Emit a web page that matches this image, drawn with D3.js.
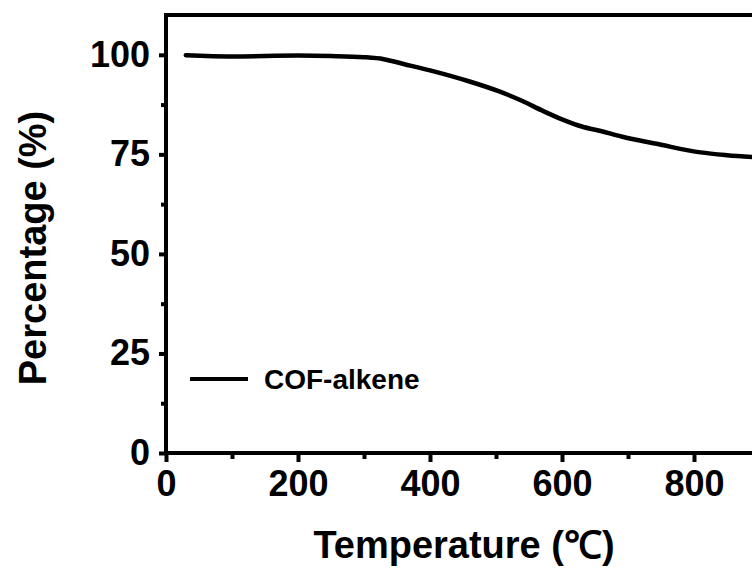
<!DOCTYPE html>
<html>
<head>
<meta charset="utf-8">
<script src="https://cdn.jsdelivr.net/npm/d3@7"></script>
<style>
  body { margin: 0; background: #fff; }
  svg text { font-family: "Liberation Sans", Arial, sans-serif; font-weight: bold; fill: #000; }
</style>
</head>
<body>
<svg id="chart" width="752" height="568"></svg>
<script>
// data
var temperature = [30, 100, 200, 250, 300, 330, 360, 400, 460, 505, 540, 570, 600, 630, 660, 690, 750, 810, 850, 890];
var percentage  = [99.9, 99.6, 99.8, 99.7, 99.4, 98.9, 97.7, 96.1, 93.3, 90.8, 88.4, 86.0, 83.8, 82.0, 80.8, 79.5, 77.4, 75.5, 74.8, 74.3];
var xTicks = [0, 200, 400, 600, 800];
var yTicks = [0, 25, 50, 75, 100];
var seriesName = "COF-alkene";

var svg = d3.select("#chart");
var plotLeft = 166, plotRight = 760, plotTop = 15, plotBottom = 453;

var x = d3.scaleLinear().domain([0, 900]).range([plotLeft, plotRight]);
var y = d3.scaleLinear().domain([0, 110]).range([plotBottom, plotTop]);

//------------
// AXES
//------------
function styleAxis(g) {
    g.select(".domain").remove();
    g.selectAll("line").attr("stroke", "#000").attr("stroke-width", 4);
    g.selectAll("text").style("font-size", "36px");
}

// minor ticks
svg.append("g")
    .attr("transform", "translate(0," + plotBottom + ")")
    .call(d3.axisBottom(x).tickValues(d3.range(100, 900, 200)).tickSize(6).tickFormat(""))
    .call(styleAxis);
svg.append("g")
    .attr("transform", "translate(" + plotLeft + ",0)")
    .call(d3.axisLeft(y).tickValues(d3.range(12.5, 110, 25)).tickSize(5).tickFormat(""))
    .call(styleAxis);

// major ticks
svg.append("g")
    .attr("transform", "translate(0," + plotBottom + ")")
    .call(d3.axisBottom(x).tickValues(xTicks).tickSize(9).tickPadding(8))
    .call(styleAxis);
svg.append("g")
    .attr("transform", "translate(" + plotLeft + ",0)")
    .call(d3.axisLeft(y).tickValues(yTicks).tickSize(7).tickPadding(9))
    .call(styleAxis);

// frame (left, bottom, top)
svg.append("path")
    .attr("d", "M" + plotRight + "," + plotTop + "H" + plotLeft + "V" + plotBottom + "H" + plotRight)
    .attr("fill", "none")
    .attr("stroke", "#000")
    .attr("stroke-width", 4);

//------------
// CURVE
//------------
var line = d3.line()
    .x(function (d, i) { return x(temperature[i]); })
    .y(function (d) { return y(d); })
    .curve(d3.curveMonotoneX);

svg.append("path")
    .datum(percentage)
    .attr("d", line)
    .attr("fill", "none")
    .attr("stroke", "#000")
    .attr("stroke-width", 4.5)
    .attr("stroke-linecap", "round");

//------------
// LEGEND
//------------
svg.append("line")
    .attr("x1", 190).attr("x2", 248)
    .attr("y1", 379).attr("y2", 379)
    .attr("stroke", "#000").attr("stroke-width", 4);
svg.append("text")
    .attr("x", 264).attr("y", 389)
    .style("font-size", "28px")
    .text(seriesName);

//------------
// TITLES
//------------
svg.append("text")
    .attr("x", 464).attr("y", 558)
    .attr("text-anchor", "middle")
    .style("font-size", "38px")
    .text("Temperature (℃)");

svg.append("text")
    .attr("transform", "translate(46,248) rotate(-90)")
    .attr("text-anchor", "middle")
    .style("font-size", "38px")
    .text("Percentage (%)");
</script>
</body>
</html>
